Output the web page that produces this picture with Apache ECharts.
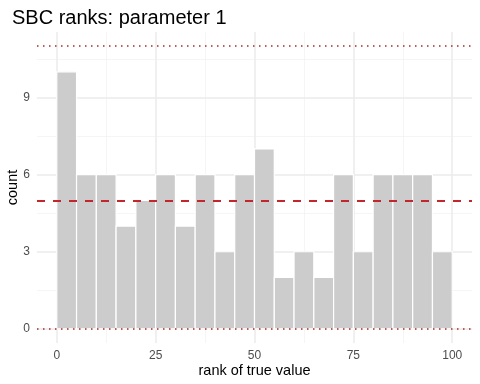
<!DOCTYPE html>
<html>
<head>
<meta charset="utf-8">
<script src="https://cdn.jsdelivr.net/npm/echarts@6/dist/echarts.min.js"></script>
<style>
  html, body { margin: 0; padding: 0; background: #fff; }
  #main { width: 480px; height: 384px; }
</style>
</head>
<body>
<div id="main"></div>
<script>
// histogram bins (rank of true value), width 5
var binStarts = [0, 5, 10, 15, 20, 25, 30, 35, 40, 45, 50, 55, 60, 65, 70, 75, 80, 85, 90, 95];
var binWidth = 5;
var counts = [10, 6, 6, 4, 5, 6, 4, 6, 3, 6, 7, 2, 3, 2, 6, 3, 6, 6, 6, 3];
var xTicks = [0, 25, 50, 75, 100];
var xMinor = [12.5, 37.5, 62.5, 87.5];
var yTicks = [0, 3, 6, 9];
var yMinor = [1.5, 4.5, 7.5, 10.5];
var meanLine = 5;
var bandLines = [0, 11];

var chart = echarts.init(document.getElementById('main'));

var gridMajor = { color: '#EBEBEB', width: 1.5, type: 'solid' };
var gridMinor = { color: '#F2F2F2', width: 0.8, type: 'solid' };

function vLines(vals, style) {
  return vals.map(function (v) { return { xAxis: v, lineStyle: style }; });
}
function hLines(vals, style) {
  return vals.map(function (v) { return { yAxis: v, lineStyle: style }; });
}

var histData = binStarts.map(function (s, i) { return [s, s + binWidth, counts[i]]; });

var option = {
  animation: false,
  title: {
    text: 'SBC ranks: parameter 1',
    left: 7, top: 3,
    textStyle: { fontFamily: 'Liberation Sans, Arial', fontWeight: 'normal', fontSize: 20, color: '#000' }
  },
  grid: { left: 37, right: 8, top: 32, bottom: 41, outerBoundsMode: 'none', containLabel: false },
  xAxis: {
    type: 'value', min: -5, max: 105,
    name: 'rank of true value', nameLocation: 'middle', nameGap: 20, nameMoveOverlap: false,
    nameTextStyle: { fontFamily: 'Liberation Sans, Arial', fontSize: 14.5, color: '#000' },
    axisLine: { show: false }, axisTick: { show: false }, splitLine: { show: false },
    axisLabel: { customValues: xTicks, color: '#4D4D4D', fontSize: 12, margin: 7, fontFamily: 'Liberation Sans, Arial' }
  },
  yAxis: {
    type: 'value', min: -0.55, max: 11.55,
    name: 'count', nameLocation: 'middle', nameGap: 17, nameRotate: 90, nameMoveOverlap: false,
    nameTextStyle: { fontFamily: 'Liberation Sans, Arial', fontSize: 14.5, color: '#000' },
    axisLine: { show: false }, axisTick: { show: false }, splitLine: { show: false },
    axisLabel: { customValues: yTicks, color: '#4D4D4D', fontSize: 12, margin: 7, fontFamily: 'Liberation Sans, Arial' }
  },
  series: [
    {
      // grid lines, drawn under the bars
      type: 'line', data: [], silent: true, z: 0,
      markLine: {
        z: 0,
        silent: true, symbol: 'none', label: { show: false }, animation: false,
        data: [].concat(
          vLines(xMinor, gridMinor), hLines(yMinor, gridMinor),
          vLines(xTicks, gridMajor), hLines(yTicks, gridMajor)
        )
      }
    },
    {
      type: 'custom', z: 2,
      data: histData,
      renderItem: function (params, api) {
        var p0 = api.coord([api.value(0), api.value(2)]);
        var p1 = api.coord([api.value(1), 0]);
        return {
          type: 'rect',
          shape: { x: p0[0], y: p0[1], width: p1[0] - p0[0], height: p1[1] - p0[1] },
          style: { fill: '#CCCCCC', stroke: '#FFFFFF', lineWidth: 1.2 }
        };
      },
      encode: { x: [0, 1], y: 2 }
    },
    {
      type: 'line', data: [], silent: true, z: 5,
      markLine: {
        z: 6,
        silent: true, symbol: 'none', label: { show: false }, animation: false,
        data: [
          { yAxis: meanLine, lineStyle: { color: '#C1272D', width: 2, type: [8, 8] } }
        ].concat(bandLines.map(function (v) {
          return { yAxis: v, lineStyle: { color: '#A52A2A', width: 1.5, type: [1.5, 4.5] } };
        }))
      }
    }
  ]
};

chart.setOption(option);
</script>
</body>
</html>
